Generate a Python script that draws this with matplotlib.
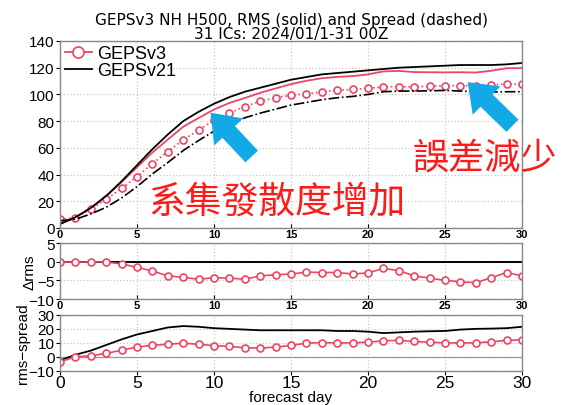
import matplotlib

matplotlib.use("Agg")

import matplotlib.pyplot as plt
import numpy as np
from matplotlib.lines import Line2D
from matplotlib.patches import FancyArrowPatch

plt.rcParams["font.family"] = ["Liberation Sans", "DejaVu Sans"]

days = list(range(31))

# RMS error (solid)
rms_v21 = [3, 8, 15, 24, 35, 47, 59, 70, 80, 87, 93, 98, 102, 105, 108, 111, 113, 115, 116, 117,
           118, 119, 120, 120.5, 121, 121.5, 122, 122, 122, 122.5, 123.5]
rms_v3 = [3, 7.8, 15, 23.9, 34.4, 45.5, 56.5, 66.2, 75.8, 82.3, 88.7, 93.6, 97.3, 101.2, 104.5,
          107.7, 110.2, 112.1, 113.1, 113.7, 115.0, 117.2, 117.6, 116.7, 116.6, 116.5, 116.6,
          116.4, 117.7, 119.6, 119.7]

# ensemble spread (dashed)
spread_v21 = [5.5, 6.5, 10.5, 15.5, 22.5, 31, 40.5, 49, 58, 65.5, 72.5, 78, 82.5, 86, 89, 92, 94,
              96, 97.5, 98.5, 100, 102, 102.5, 102.5, 102.7, 103, 102.5, 102, 101.8, 102, 102]
spread_v3 = [6.5, 7.8, 14.2, 21.4, 29.6, 38.5, 48.2, 57.2, 66.0, 73.3, 80.7, 86.1, 90.8, 94.9,
             97.5, 99.5, 100.4, 101.9, 103.1, 103.7, 104.5, 105.7, 105.8, 105.7, 106.1, 106.5,
             106.6, 106.4, 106.9, 107.8, 107.5]

d_rms = np.array(rms_v3) - np.array(rms_v21)
rs_v3 = np.array(rms_v3) - np.array(spread_v3)
rs_v21 = np.array(rms_v21) - np.array(spread_v21)

RED = "#ee4466"
BLUE = "#12a9e6"
GRID = dict(color="#c8c8c8", linestyle=":", linewidth=0.9)
MK = dict(marker="o", ms=5, mfc="white", mec=RED, mew=1.2)

fig = plt.figure(figsize=(5.61, 4.06), dpi=100)
ax1 = fig.add_axes([0.107, 0.436, 0.8235, 0.4606])
ax2 = fig.add_axes([0.107, 0.261, 0.8235, 0.138])
ax3 = fig.add_axes([0.107, 0.084, 0.8235, 0.138])

for ax in (ax1, ax2, ax3):
    ax.set_xlim(0, 30)
    ax.set_xticks(range(0, 31, 5))
    ax.grid(True, **GRID)
    for sp in ax.spines.values():
        sp.set_color("#888888")
        sp.set_linewidth(1.0)
    ax.tick_params(axis="y", labelsize=11, length=3, direction="out", pad=1)
    ax.tick_params(axis="x", labelsize=8, length=3, direction="in", pad=1)

# main panel
ax1.plot(days, rms_v3, color=RED, lw=1.3)
ax1.plot(days, spread_v3, color=RED, lw=1.2, ls=":", **MK)
ax1.plot(days, rms_v21, color="black", lw=1.3)
ax1.plot(days, spread_v21, color="black", lw=1.2, ls="-.")
ax1.set_ylim(0, 140)
ax1.set_yticks(range(0, 141, 20))
for lbl in ax1.get_xticklabels():
    lbl.set_fontweight("bold")
ax1.set_title("GEPSv3 NH H500, RMS (solid) and Spread (dashed)\n31 ICs: 2024/01/1-31 00Z",
              fontsize=11, linespacing=0.9, pad=2, family="DejaVu Sans")
handles = [Line2D([], [], color=RED, lw=1.3, marker="o", ms=8, mfc="white", mec=RED, mew=1.2),
           Line2D([], [], color="black", lw=1.3)]
ax1.legend(handles, ["GEPSv3", "GEPSv21"], loc="upper left", frameon=False, fontsize=13,
           handlelength=1.5, handletextpad=0.3, borderaxespad=0.05, labelspacing=0.0,
           borderpad=0.2)

# delta rms
ax2.axhline(0, color="black", lw=1.4)
ax2.plot(days, d_rms, color=RED, lw=1.2, **MK)
ax2.set_ylim(-10, 5)
ax2.set_yticks([-10, -5, 0, 5])
ax2.set_ylabel("\u0394rms", fontsize=11)
ax2.yaxis.set_label_coords(-0.05, 0.5)
for lbl in ax2.get_xticklabels():
    lbl.set_fontweight("bold")

# rms - spread
ax3.axhline(0, color="#999999", lw=0.9)
ax3.plot(days, rs_v21, color="black", lw=1.3)
ax3.plot(days, rs_v3, color=RED, lw=1.2, **MK)
ax3.set_ylim(-10, 30)
ax3.set_yticks([-10, 0, 10, 20, 30])
ax3.tick_params(axis="x", labelsize=12.5, direction="out", pad=0)
ax3.set_ylabel("rms\u2212spread", fontsize=11)
ax3.yaxis.set_label_coords(-0.065, 0.5)
ax3.set_xlabel("forecast day", fontsize=11, labelpad=0)

# annotations
cjk = ["Noto Sans CJK TC", "DejaVu Sans"]
fig.text(0.265, 0.503, "系集發散度增加", color="#ff1a1a", fontsize=26.5, family=cjk, va="center")
fig.text(0.736, 0.61, "誤差減少", color="#ff1a1a", fontsize=26, family=cjk, va="center")
arrow = dict(arrowstyle="simple,head_length=1.0,head_width=1.5,tail_width=0.65",
             color=BLUE, lw=0, transform=fig.transFigure, mutation_scale=19)
fig.add_artist(FancyArrowPatch((0.452, 0.607), (0.372, 0.725), **arrow))
fig.add_artist(FancyArrowPatch((0.917, 0.683), (0.830, 0.800), **arrow))

fig.savefig("out.png", dpi=100)
